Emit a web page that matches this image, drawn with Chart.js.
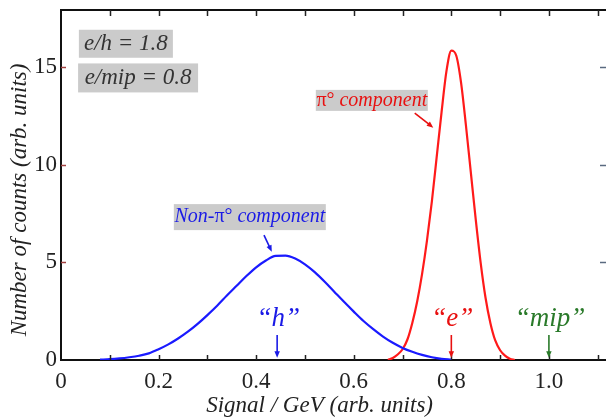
<!DOCTYPE html>
<html>
<head>
<meta charset="utf-8">
<script src="https://cdn.jsdelivr.net/npm/chart.js@4"></script>
<style>
  html, body { margin: 0; padding: 0; background: #fff; }
  #wrap { width: 606px; height: 418px; }
</style>
</head>
<body>
<div id="wrap"><canvas id="c"></canvas></div>
<script>
// Non-pi0 (hadronic) component, blue
const hadX = [0.08, 0.10, 0.12, 0.14, 0.16, 0.18, 0.20, 0.22, 0.24, 0.26, 0.28, 0.30, 0.32, 0.34, 0.36, 0.38,
  0.40, 0.42, 0.44, 0.46, 0.48, 0.50, 0.52, 0.54, 0.56, 0.58, 0.60, 0.62, 0.64, 0.66, 0.68, 0.70, 0.72,
  0.74, 0.76, 0.78, 0.80]
const hadY = [0.02, 0.04, 0.08, 0.14, 0.22, 0.34, 0.55, 0.80, 1.10, 1.45, 1.85, 2.30, 2.78, 3.30, 3.80, 4.30,
  4.75, 5.10, 5.33, 5.35, 5.20, 4.90, 4.50, 4.02, 3.50, 2.98, 2.48, 2.00, 1.58, 1.20, 0.88, 0.62, 0.42,
  0.26, 0.14, 0.06, 0.02]

// pi0 (electromagnetic) component, red
const emX = [0.67, 0.68, 0.69, 0.70, 0.71, 0.72, 0.73, 0.74, 0.75, 0.76, 0.77, 0.78, 0.79, 0.80, 0.81, 0.82,
  0.83, 0.84, 0.85, 0.86, 0.87, 0.88, 0.89, 0.90, 0.91, 0.92, 0.93]
const emY = [0.0, 0.1, 0.28, 0.55, 1.05, 1.9, 3.0, 4.4, 6.1, 8.1, 10.4, 12.7, 14.8, 15.85, 15.6, 14.2,
  12.0, 9.6, 7.2, 5.0, 3.2, 1.9, 1.0, 0.5, 0.22, 0.07, 0.0]

const xTickLabels = ['0', '0.2', '0.4', '0.6', '0.8', '1.0']
const yTickLabels = ['0', '5', '10', '15']

const serif = '"Liberation Serif", "Times New Roman", Times, serif'

const toPoints = (xs, ys) => xs.map((x, i) => ({x, y: ys[i]}))

function arrow(ctx, x1, y1, x2, y2, color) {
  const a = Math.atan2(y2 - y1, x2 - x1)
  const h = 7
  ctx.strokeStyle = color
  ctx.fillStyle = color
  ctx.lineWidth = 1.6
  ctx.beginPath()
  ctx.moveTo(x1, y1)
  ctx.lineTo(x2 - Math.cos(a) * h * 0.8, y2 - Math.sin(a) * h * 0.8)
  ctx.stroke()
  ctx.beginPath()
  ctx.moveTo(x2, y2)
  ctx.lineTo(x2 - h * Math.cos(a - 0.4), y2 - h * Math.sin(a - 0.4))
  ctx.lineTo(x2 - h * Math.cos(a + 0.4), y2 - h * Math.sin(a + 0.4))
  ctx.closePath()
  ctx.fill()
}

// text made of [string, italic] parts
function partsWidth(ctx, parts, size) {
  let w = 0
  parts.forEach(([s, it]) => {
    ctx.font = (it ? 'italic ' : '') + size + 'px ' + serif
    w += ctx.measureText(s).width
  })
  return w
}

function drawParts(ctx, parts, cx, cy, size, color, box) {
  const w = partsWidth(ctx, parts, size)
  if (box) {
    ctx.fillStyle = '#cbcbcb'
    ctx.fillRect(cx - box[0] / 2, cy - box[1] / 2, box[0], box[1])
  }
  let x = cx - w / 2
  ctx.fillStyle = color
  ctx.textBaseline = 'middle'
  ctx.textAlign = 'left'
  parts.forEach(([s, it]) => {
    ctx.font = (it ? 'italic ' : '') + size + 'px ' + serif
    ctx.fillText(s, x, cy)
    x += ctx.measureText(s).width
  })
}

const decor = {
  id: 'decor',
  afterDraw(chart) {
    const {ctx, chartArea: area, scales: {x, y}} = chart
    const px = v => x.getPixelForValue(v)
    const py = v => y.getPixelForValue(v)
    ctx.save()

    // frame top line
    ctx.strokeStyle = '#111'
    ctx.lineWidth = 2
    ctx.beginPath()
    ctx.moveTo(area.left, area.top)
    ctx.lineTo(area.right, area.top)
    ctx.stroke()

    // inward minor ticks
    ctx.lineWidth = 1.5
    for (let i = 1; i <= 11; i++) {
      const tx = Math.round(px(i / 10)) + 0.5
      ctx.strokeStyle = '#222'
      ctx.beginPath()
      ctx.moveTo(tx, area.bottom)
      ctx.lineTo(tx, area.bottom - 5)
      ctx.moveTo(tx, area.top)
      ctx.lineTo(tx, area.top + 6)
      ctx.stroke()
    }
    for (let v = 5; v <= 15; v += 5) {
      const ty = Math.round(py(v)) + 0.5
      ctx.strokeStyle = '#a04040'
      ctx.beginPath()
      ctx.moveTo(area.left, ty)
      ctx.lineTo(area.left + 5, ty)
      ctx.stroke()
      ctx.strokeStyle = '#5a6a80'
      ctx.beginPath()
      ctx.moveTo(area.right, ty)
      ctx.lineTo(area.right - 6, ty)
      ctx.stroke()
    }

    // axis titles
    ctx.fillStyle = '#222'
    ctx.textAlign = 'center'
    ctx.textBaseline = 'middle'
    ctx.font = 'italic 23px ' + serif
    ctx.fillText('Signal / GeV (arb. units)', px(0.53), 406)
    ctx.save()
    ctx.font = 'italic 23px ' + serif
    ctx.translate(20, py(8.2))
    ctx.rotate(-Math.PI / 2)
    ctx.fillText('Number of counts (arb. units)', 0, 0)
    ctx.restore()

    // ratio boxes (box = [width, height] in px)
    drawParts(ctx, [['e/h = 1.8', true]], px(0.133), py(16.2), 23, '#333', [94, 28])
    drawParts(ctx, [['e/mip = 0.8', true]], px(0.158), py(14.45), 23, '#333', [120, 29])

    // component labels
    drawParts(ctx, [['\u03c0\u00b0 ', false], ['component', true]], px(0.637), py(13.3), 20, '#e81010', [112, 21])
    arrow(ctx, px(0.725), py(12.65), px(0.763), py(11.9), '#e81010')

    drawParts(ctx, [['Non-', true], ['\u03c0\u00b0 ', false], ['component', true]], px(0.387), py(7.32), 20, '#1a1ae6', [152, 26])
    arrow(ctx, px(0.416), py(6.4), px(0.432), py(5.55), '#1a1ae6')

    // peak markers
    const marks = [['\u201ch\u201d', 0.443, '#1a1ae6'], ['\u201ce\u201d', 0.8, '#e81010'], ['\u201cmip\u201d', 1.0, '#2a7a2a']]
    marks.forEach(([s, v, c]) => {
      drawParts(ctx, [[s, true]], px(v) + 1, py(2.1), 27, c, null)
      arrow(ctx, px(v), py(1.28), px(v), py(0.12), c)
    })

    ctx.restore()
  }
}

new Chart(document.getElementById('c'), {
  type: 'line',
  data: {
    datasets: [
      {label: 'Non-pi0 component', data: toPoints(hadX, hadY), borderColor: '#1a1aff', borderWidth: 2.2},
      {label: 'pi0 component', data: toPoints(emX, emY), borderColor: '#ff1a1a', borderWidth: 2.2}
    ]
  },
  options: {
    responsive: true,
    maintainAspectRatio: false,
    animation: false,
    layout: {padding: {top: 10, right: 0, left: 0, bottom: 0}},
    elements: {
      point: {radius: 0},
      line: {tension: 0.4, cubicInterpolationMode: 'monotone', fill: false}
    },
    plugins: {legend: {display: false}, tooltip: {enabled: false}},
    scales: {
      x: {
        type: 'linear',
        min: 0,
        max: 1.117,
        afterFit: s => { s.height = 58; s.paddingLeft = 0; s.paddingRight = 0 },
        grid: {display: false, drawTicks: false},
        border: {display: true, color: '#111', width: 2},
        ticks: {
          stepSize: 0.2,
          includeBounds: false,
          padding: 8,
          color: '#222',
          font: {family: serif, size: 23},
          maxRotation: 0,
          autoSkip: false,
          callback: v => xTickLabels[Math.round(v / 0.2)]
        }
      },
      y: {
        min: 0,
        max: 17.93,
        afterFit: s => { s.width = 61; s.paddingTop = 0; s.paddingBottom = 0 },
        grid: {display: false, drawTicks: false},
        border: {display: true, color: '#111', width: 2},
        ticks: {
          stepSize: 5,
          includeBounds: false,
          padding: 4,
          color: '#222',
          font: {family: serif, size: 23},
          callback: v => yTickLabels[v / 5]
        }
      }
    }
  },
  plugins: [decor]
})
</script>
</body>
</html>
